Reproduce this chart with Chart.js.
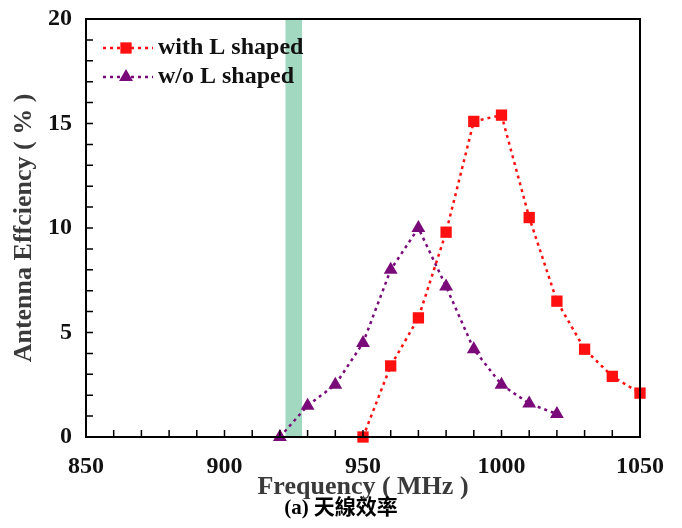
<!DOCTYPE html>
<html>
<head>
<meta charset="utf-8">
<script src="https://cdn.jsdelivr.net/npm/chart.js@4.4.1/dist/chart.umd.min.js"></script>
<style>
html, body { margin: 0; padding: 0; background: #fff; }
#wrap { width: 682px; height: 528px; }
</style>
</head>
<body>
<div id="wrap"><canvas id="myChart"></canvas></div>
<script>
// data
const seriesNames = ['with L shaped', 'w/o L shaped'];
const freqWith = [950, 960, 970, 980, 990, 1000, 1010, 1020, 1030, 1040, 1050];
const effWith = [0, 3.4, 5.7, 9.8, 15.1, 15.4, 10.5, 6.5, 4.2, 2.9, 2.1];
const freqWo = [920, 930, 940, 950, 960, 970, 980, 990, 1000, 1010, 1020];
const effWo = [0, 1.5, 2.5, 4.5, 8.0, 10.0, 7.2, 4.2, 2.5, 1.6, 1.1];
const xTicks = [850, 900, 950, 1000, 1050];
const yTicks = [0, 5, 10, 15, 20];
const band = [922, 928];
const xTitle = 'Frequency ( MHz )';
const yTitle = 'Antenna Effciency ( % )';
const caption = '(a) 天線效率';

const serif = "'Liberation Serif', 'Times New Roman', serif";

const toPoints = (xs, ys) => xs.map((x, i) => ({ x: x, y: ys[i] }));

// green band + frame + inward minor ticks
const decor = {
    id: 'decor',
    beforeDatasetsDraw(chart) {
        const { ctx, chartArea: a, scales: { x } } = chart;
        ctx.save();
        ctx.fillStyle = '#a2d8c0';
        const x0 = x.getPixelForValue(band[0]);
        const x1 = x.getPixelForValue(band[1]);
        ctx.fillRect(x0, a.top, x1 - x0, a.bottom - a.top);
        ctx.restore();
    },
    afterDraw(chart) {
        const { ctx, chartArea: a, scales: { x, y } } = chart;
        ctx.save();
        ctx.strokeStyle = '#000';
        ctx.lineWidth = 2;
        ctx.strokeRect(a.left, a.top, a.right - a.left, a.bottom - a.top);
        ctx.lineWidth = 1.5;
        ctx.beginPath();
        for (let v = x.min; v <= x.max; v += 10) {
            const px = x.getPixelForValue(v);
            ctx.moveTo(px, a.bottom);
            ctx.lineTo(px, a.bottom - 7);
        }
        for (let v = y.min; v <= y.max; v += 1) {
            const py = y.getPixelForValue(v);
            ctx.moveTo(a.left, py);
            ctx.lineTo(a.left + 7, py);
        }
        ctx.stroke();
        ctx.restore();
    }
};

// legend drawn inside the plot, top left
const innerLegend = {
    id: 'innerLegend',
    afterDraw(chart) {
        const { ctx, chartArea: a } = chart;
        ctx.save();
        chart.data.datasets.forEach((ds, i) => {
            const yy = a.top + 29 + i * 29;
            const lx = a.left + 17;
            ctx.strokeStyle = ds.borderColor;
            ctx.lineWidth = 2.5;
            ctx.setLineDash([3, 4]);
            ctx.beginPath();
            ctx.moveTo(lx, yy);
            ctx.lineTo(lx + 50, yy);
            ctx.stroke();
            ctx.setLineDash([]);
            ctx.fillStyle = ds.backgroundColor;
            Chart.helpers.drawPoint(ctx, {
                pointStyle: ds.pointStyle,
                radius: ds.pointRadius,
                borderWidth: 0
            }, lx + 23, yy);
            ctx.fillStyle = '#111';
            ctx.font = "bold 24px " + serif;
            ctx.textBaseline = 'middle';
            ctx.fillText(ds.label, lx + 55, yy);
        });
        ctx.restore();
    }
};

const ctx = document.getElementById('myChart').getContext('2d');
const myChart = new Chart(ctx, {
    type: 'line',
    data: {
        datasets: [{
            label: seriesNames[0],
            data: toPoints(freqWith, effWith),
            borderColor: '#ff1010',
            backgroundColor: '#ff1010',
            borderWidth: 2.5,
            borderDash: [3, 4],
            pointStyle: 'rect',
            pointRadius: 8,
            pointBorderWidth: 0,
            clip: false
        }, {
            label: seriesNames[1],
            data: toPoints(freqWo, effWo),
            borderColor: '#7a0a7a',
            backgroundColor: '#7a0a7a',
            borderWidth: 2.5,
            borderDash: [3, 4],
            pointStyle: 'triangle',
            pointRadius: 8,
            pointBorderWidth: 0,
            clip: false
        }]
    },
    options: {
        responsive: true,
        maintainAspectRatio: false,
        animation: false,
        layout: { padding: 0 },
        plugins: {
            legend: { display: false },
            tooltip: { enabled: false },
            title: {
                display: true,
                position: 'bottom',
                text: caption,
                color: '#000',
                font: { family: "'Liberation Serif', 'Noto Sans CJK TC', serif", size: 21, weight: 'bold' },
                padding: { top: -7, bottom: 7 }
            }
        },
        scales: {
            x: {
                type: 'linear',
                min: 850,
                max: 1050,
                afterBuildTicks: s => { s.ticks = xTicks.map(v => ({ value: v })); },
                afterFit: s => { s.height = 65.8; s.paddingLeft = 0; s.paddingRight = 42; },
                grid: { display: false, drawTicks: false },
                border: { display: false },
                ticks: {
                    padding: 15,
                    color: '#111',
                    callback: v => String(v),
                    font: { family: serif, size: 24, weight: 'bold' }
                },
                title: {
                    display: true,
                    text: xTitle,
                    color: '#3a3a3a',
                    padding: { top: 0, bottom: 0 },
                    font: { family: serif, size: 26, weight: 'bold' }
                }
            },
            y: {
                min: 0,
                max: 20,
                afterBuildTicks: s => { s.ticks = yTicks.map(v => ({ value: v })); },
                afterFit: s => { s.width = 86; s.paddingTop = 19; s.paddingBottom = 0; },
                grid: { display: false, drawTicks: false },
                border: { display: false },
                ticks: {
                    padding: 14,
                    color: '#111',
                    callback: v => String(v),
                    font: { family: serif, size: 24, weight: 'bold' }
                },
                title: {
                    display: true,
                    text: yTitle,
                    color: '#3a3a3a',
                    padding: { top: 9, bottom: 0 },
                    font: { family: serif, size: 26, weight: 'bold' }
                }
            }
        }
    },
    plugins: [decor, innerLegend]
});
</script>
</body>
</html>
